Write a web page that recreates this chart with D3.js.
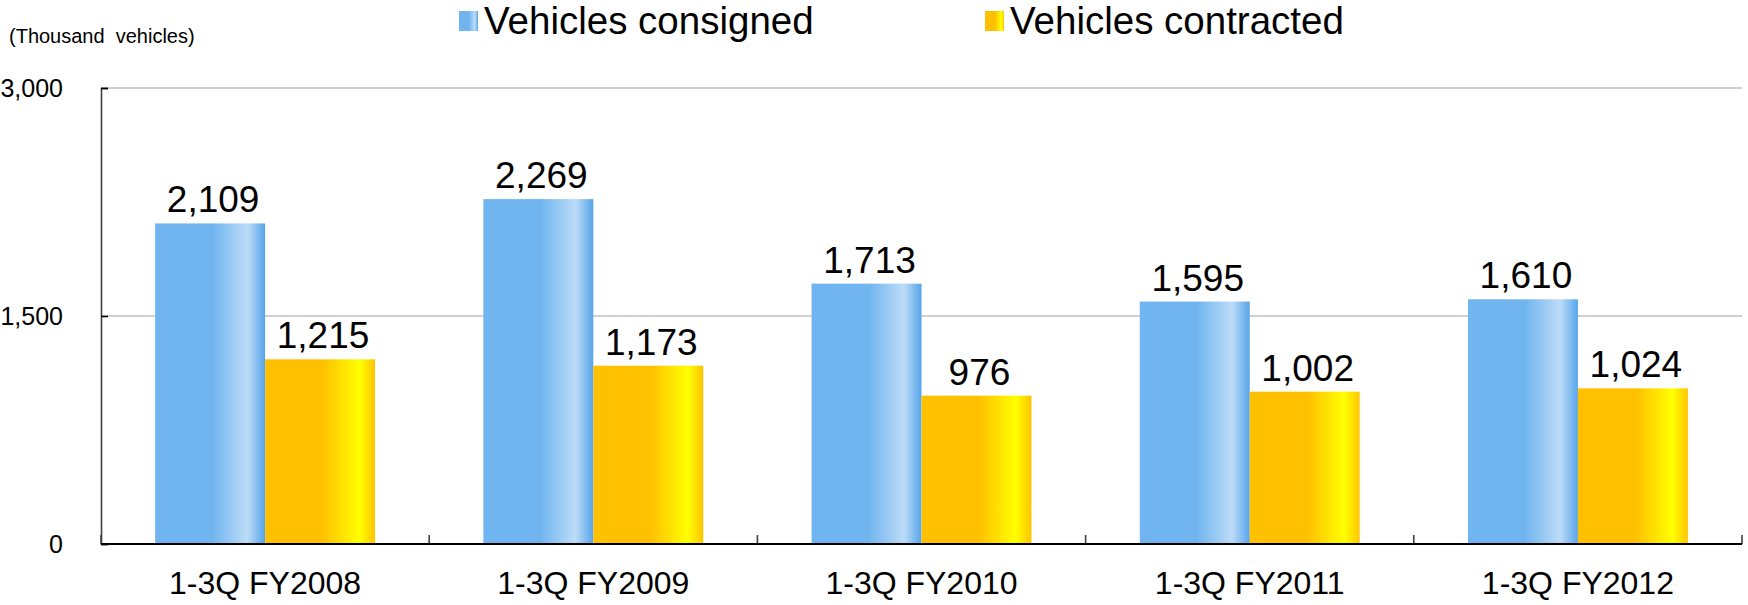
<!DOCTYPE html>
<html>
<head>
<meta charset="utf-8">
<script src="https://cdn.jsdelivr.net/npm/d3@7"></script>
<style>
  html, body { margin: 0; padding: 0; background: #fff; }
  svg { display: block; font-family: Arial, "Liberation Sans", sans-serif; }
</style>
</head>
<body>
<svg id="chart" width="1748" height="605"></svg>
<script>
const categories = ["1-3Q FY2008", "1-3Q FY2009", "1-3Q FY2010", "1-3Q FY2011", "1-3Q FY2012"];
const seriesNames = ["Vehicles consigned", "Vehicles contracted"];
const consigned = [2109, 2269, 1713, 1595, 1610];
const contracted = [1215, 1173, 976, 1002, 1024];
const yTicks = [0, 1500, 3000];
const unitLabel = "(Thousand\u00a0 vehicles)";

(function () {
const svg = d3.select("#chart");
const mLeft = 101, mRight = 1742, mTop = 88, mBottom = 544;

// gradients
const defs = svg.append("defs");
function grad(id, stops) {
  const g = defs.append("linearGradient").attr("id", id)
    .attr("x1", "0%").attr("y1", "0%").attr("x2", "100%").attr("y2", "0%");
  stops.forEach(s => g.append("stop").attr("offset", s[0]).attr("stop-color", s[1]));
}
grad("gBlue", [["0%", "#70b5ef"], ["52%", "#70b5ef"], ["84%", "#bddcf7"], ["100%", "#55a4ea"]]);
grad("gOrange", [["0%", "#ffc000"], ["52%", "#ffc000"], ["86%", "#ffff00"], ["100%", "#ffc400"]]);
const fills = ["url(#gBlue)", "url(#gOrange)"];

const x0 = d3.scaleBand().domain(categories).range([mLeft, mRight])
  .paddingInner(0.33).paddingOuter(0.165);
const x1 = d3.scaleBand().domain(seriesNames).range([0, x0.bandwidth()]).padding(0);
const y = d3.scaleLinear().domain([0, 3000]).range([mBottom, mTop]);

// gridlines
svg.append("g").selectAll("line").data(yTicks.filter(d => d > 0)).join("line")
  .attr("x1", mLeft).attr("x2", mRight)
  .attr("y1", d => y(d)).attr("y2", d => y(d))
  .attr("stroke", "#c0c0c0").attr("stroke-width", 1.6);

// bars
const data = categories.map((c, i) => ({ cat: c, vals: [consigned[i], contracted[i]] }));
const groups = svg.append("g").selectAll("g").data(data).join("g")
  .attr("transform", d => `translate(${x0(d.cat)},0)`);
groups.selectAll("rect").data(d => d.vals.map((v, j) => ({ v, j }))).join("rect")
  .attr("x", d => x1(seriesNames[d.j]))
  .attr("width", x1.bandwidth())
  .attr("y", d => y(d.v))
  .attr("height", d => y(0) - y(d.v))
  .attr("fill", d => fills[d.j]);
groups.selectAll("text").data(d => d.vals.map((v, j) => ({ v, j }))).join("text")
  .attr("x", d => x1(seriesNames[d.j]) + x1.bandwidth() / 2 + 3)
  .attr("y", d => y(d.v) - 11)
  .attr("text-anchor", "middle")
  .attr("font-size", 37)
  .attr("fill", "#000")
  .text(d => d3.format(",")(d.v));

// left axis
const yAxis = d3.axisLeft(y).tickValues(yTicks).tickFormat(d3.format(",")).tickSize(-7).tickPadding(38);
const ya = svg.append("g").attr("transform", `translate(${mLeft},0)`).call(yAxis);
ya.select(".domain").attr("stroke", "#404040").attr("stroke-width", 1.6);
ya.selectAll(".tick line").attr("stroke", "#000").attr("stroke-width", 1.6);
ya.selectAll(".tick text").attr("font-size", 25).attr("fill", "#000")
  .attr("font-family", "Arial, 'Liberation Sans', sans-serif");

// bottom axis with category boundary ticks
const boundaries = d3.range(categories.length + 1).map(i => mLeft + i * x0.step());
svg.append("g").selectAll("line").data(boundaries).join("line")
  .attr("x1", d => d).attr("x2", d => d)
  .attr("y1", mBottom).attr("y2", mBottom - 9)
  .attr("stroke", "#404040").attr("stroke-width", 1.6);
svg.append("line").attr("x1", mLeft).attr("x2", mRight).attr("y1", mBottom).attr("y2", mBottom)
  .attr("stroke", "#000").attr("stroke-width", 2);

svg.append("g").selectAll("text").data(categories).join("text")
  .attr("x", d => x0(d) + x0.bandwidth() / 2)
  .attr("y", 594)
  .attr("text-anchor", "middle")
  .attr("font-size", 32)
  .attr("fill", "#000")
  .text(d => d);

// unit label
svg.append("text").attr("x", 9).attr("y", 43).attr("font-size", 20)
  .attr("fill", "#000").text(unitLabel);

// legend
const legendX = [459, 985];
const lg = svg.append("g").selectAll("g").data(seriesNames).join("g")
  .attr("transform", (d, i) => `translate(${legendX[i]},0)`);
lg.append("rect").attr("x", 0).attr("y", 11).attr("width", 19).attr("height", 20)
  .attr("fill", (d, i) => fills[i]);
lg.append("text").attr("x", 25).attr("y", 34).attr("font-size", 38.5).attr("fill", "#000")
  .text(d => d);
})();
</script>
</body>
</html>
